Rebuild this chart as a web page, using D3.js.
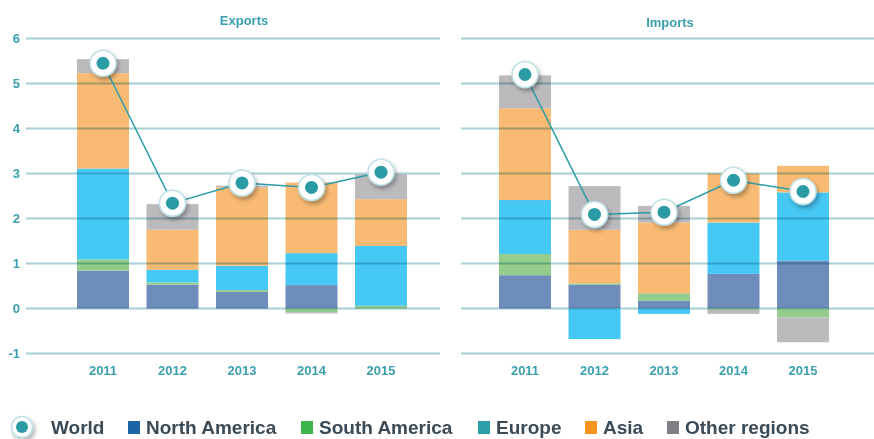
<!DOCTYPE html>
<html>
<head>
<meta charset="utf-8">
<script src="https://cdn.jsdelivr.net/npm/d3@7"></script>
<style>
  body { margin: 0; background: #fff; }
  svg { display: block; font-family: "Liberation Sans", Arial, sans-serif; }
</style>
</head>
<body>
<svg id="chart" width="874" height="439"></svg>
<script>
// values (USD trillion-ish)
const years = ["2011", "2012", "2013", "2014", "2015"];
const regions = ["North America", "South America", "Europe", "Asia", "Other regions"];
const yTicks = [-1, 0, 1, 2, 3, 4, 5, 6];

const exportsNA    = [0.84, 0.53, 0.37, 0.52, 0.00];
const exportsSA    = [0.25, 0.05, 0.04, -0.08, 0.06];
const exportsEU    = [2.02, 0.28, 0.54, 0.71, 1.33];
const exportsAsia  = [2.12, 0.89, 1.74, 1.57, 1.04];
const exportsOther = [0.31, 0.57, 0.04, -0.03, 0.55];
const exportsWorld = [5.45, 2.34, 2.79, 2.69, 3.03];

const importsNA    = [0.74, 0.53, 0.17, 0.77, 1.06];
const importsSA    = [0.47, 0.03, 0.17, -0.03, -0.20];
const importsEU    = [1.20, -0.68, -0.12, 1.14, 1.52];
const importsAsia  = [2.04, 1.19, 1.57, 1.09, 0.59];
const importsOther = [0.73, 0.97, 0.37, -0.09, -0.55];
const importsWorld = [5.20, 2.09, 2.14, 2.85, 2.60];

const barColors = ["#6f8dbb", "#93cc8b", "#45c8f4", "#f9bb74", "#bbbbbe"];
const legendColors = ["#1b64a6", "#3cb64b", "#2e9fa9", "#f7941f", "#7f8084"];
const teal = "#2b9ca6";
const labelColor = "#3a9fae";

function rows(na, sa, eu, asia, other) {
  return years.map((yr, i) => ({
    year: yr,
    "North America": na[i], "South America": sa[i], "Europe": eu[i],
    "Asia": asia[i], "Other regions": other[i]
  }));
}

const panels = [
  {title: "Exports", titleX: 244, titleY: 25, grid: [26, 440], bars: [77, 407],
   data: rows(exportsNA, exportsSA, exportsEU, exportsAsia, exportsOther), world: exportsWorld},
  {title: "Imports", titleX: 670, titleY: 27, grid: [461, 874], bars: [499, 829],
   data: rows(importsNA, importsSA, importsEU, importsAsia, importsOther), world: importsWorld}
];

const svg = d3.select("#chart");
const y = d3.scaleLinear([0, 6], [308.5, 38.5]);
const color = d3.scaleOrdinal(regions, barColors);

const defs = svg.append("defs");
const f = defs.append("filter").attr("id", "shadow")
  .attr("x", "-50%").attr("y", "-50%").attr("width", "200%").attr("height", "200%");
f.append("feDropShadow").attr("dx", 2).attr("dy", 3).attr("stdDeviation", 2)
  .attr("flood-color", "#000").attr("flood-opacity", 0.3);

const stack = d3.stack().keys(regions).offset(d3.stackOffsetDiverging);

panels.forEach(p => {
  const x = d3.scaleBand(years, p.bars).paddingInner(0.252).paddingOuter(0);

  const g = svg.append("g");

  g.append("text")
    .attr("x", p.titleX).attr("y", p.titleY)
    .attr("text-anchor", "middle")
    .attr("font-size", 13).attr("font-weight", "bold")
    .attr("fill", labelColor)
    .text(p.title);

  g.selectAll("g.layer")
    .data(stack(p.data))
    .join("g")
    .attr("class", "layer")
    .attr("fill", d => color(d.key))
    .selectAll("rect")
    .data(d => d)
    .join("rect")
    .attr("x", d => x(d.data.year))
    .attr("width", x.bandwidth())
    .attr("y", d => y(d[1]))
    .attr("height", d => y(d[0]) - y(d[1]));

  // gridlines over the bars, multiplied so they tint the colours
  g.append("g")
    .style("mix-blend-mode", "multiply")
    .selectAll("line")
    .data(yTicks)
    .join("line")
    .attr("x1", p.grid[0]).attr("x2", p.grid[1])
    .attr("y1", d => y(d)).attr("y2", d => y(d))
    .attr("stroke", "#a8d0d7")
    .attr("stroke-width", 2);

  const xAxis = g.append("g")
    .attr("transform", "translate(0,375)")
    .call(d3.axisBottom(x).tickSize(0).tickPadding(0));
  xAxis.select(".domain").remove();
  xAxis.selectAll("text")
    .attr("dy", 0)
    .attr("font-family", "Liberation Sans, Arial, sans-serif")
    .attr("font-size", 13).attr("font-weight", "bold")
    .attr("fill", labelColor);

  const cx = yr => x(yr) + x.bandwidth() / 2;

  g.append("path")
    .datum(p.world)
    .attr("fill", "none")
    .attr("stroke", teal)
    .attr("stroke-width", 1.5)
    .attr("d", d3.line().x((d, i) => cx(years[i])).y(d => y(d)));

  const m = g.selectAll("g.marker")
    .data(p.world)
    .join("g")
    .attr("class", "marker")
    .attr("transform", (d, i) => `translate(${cx(years[i])},${y(d)})`);
  m.append("circle").attr("r", 13)
    .attr("fill", "#fff").attr("stroke", "#bfe0e4").attr("stroke-width", 1.5)
    .attr("filter", "url(#shadow)");
  m.append("circle").attr("r", 6.5).attr("fill", teal);
});

// y axis labels on the left panel only
const yAxis = svg.append("g")
  .attr("transform", "translate(20,0)")
  .call(d3.axisLeft(y).tickValues(yTicks).tickSize(0).tickPadding(0).tickFormat(d => String(d)));
yAxis.select(".domain").remove();
yAxis.selectAll("text")
  .attr("font-family", "Liberation Sans, Arial, sans-serif")
  .attr("font-size", 13).attr("font-weight", "bold")
  .attr("fill", labelColor);

// legend
const legend = svg.append("g").attr("font-size", 19).attr("font-weight", "bold").attr("fill", "#3a4a57");
const lm = legend.append("g").attr("transform", "translate(22,427)");
lm.append("circle").attr("r", 10.5)
  .attr("fill", "#fff").attr("stroke", "#bfe0e4").attr("stroke-width", 1.5)
  .attr("filter", "url(#shadow)");
lm.append("circle").attr("r", 6).attr("fill", teal);
legend.append("text").attr("x", 51).attr("y", 434).text("World");

const legendX = [128, 301, 478, 585, 667];
const items = legend.selectAll("g.item")
  .data(regions)
  .join("g")
  .attr("class", "item")
  .attr("transform", (d, i) => `translate(${legendX[i]},0)`);
items.append("rect")
  .attr("y", 421).attr("width", 12).attr("height", 13)
  .attr("fill", (d, i) => legendColors[i]);
items.append("text")
  .attr("x", 18).attr("y", 434)
  .text(d => d);
</script>
</body>
</html>
